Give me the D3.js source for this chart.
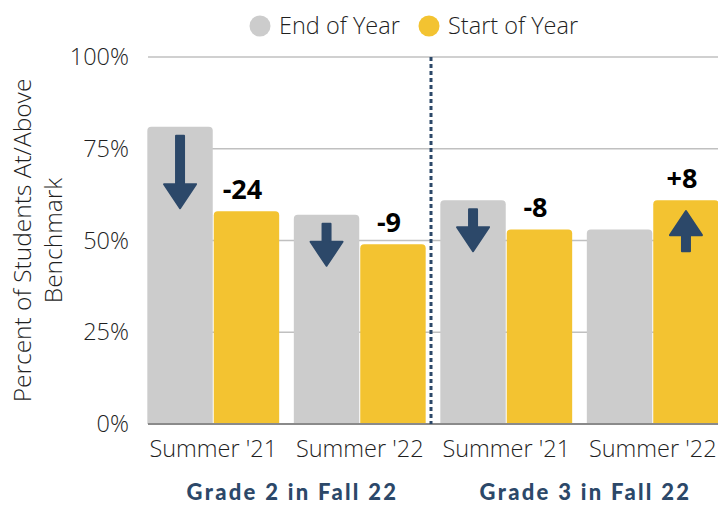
<!DOCTYPE html>
<html>
<head>
<meta charset="utf-8">
<script src="https://cdn.jsdelivr.net/npm/d3@7"></script>
<style>
  body { margin: 0; background: #fff; }
  svg { display: block; }
</style>
</head>
<body>
<svg id="chart"></svg>
<script>
// Data
var categories = ["Summer '21", "Summer '22", "Summer '21", "Summer '22"];
var groups = ["Grade 2 in Fall 22", "Grade 3 in Fall 22"];
var seriesNames = ["End of Year", "Start of Year"];
var endOfYear = [81, 57, 61, 53];
var startOfYear = [58, 49, 53, 61];
var changeLabels = ["-24", "-9", "-8", "+8"];
var yTicks = [0, 25, 50, 75, 100];

var colors = { "End of Year": "#cccccc", "Start of Year": "#f3c331" };
var navy = "#2c4869";
var font = "'Open Sans', sans-serif";
var textCol = "#1f1f1f";

var width = 718, height = 506;
var svg = d3.select('#chart').attr('width', width).attr('height', height);

// Scales
var y = d3.scaleLinear().domain([0, 100]).range([424, 57]);
var x0 = d3.scaleBand().domain(d3.range(categories.length)).range([140, 726])
  .paddingInner(0.1).paddingOuter(0.05);
var x1 = d3.scaleBand().domain(seriesNames).range([0, x0.bandwidth()]).paddingInner(0.015);

var rows = categories.map((c, i) => ({
  i: i, cat: c, end: endOfYear[i], start: startOfYear[i], label: changeLabels[i]
}));

// Gridlines
svg.append('g').selectAll('line').data(yTicks.filter(d => d > 0)).enter().append('line')
  .attr('x1', 148).attr('x2', width)
  .attr('y1', d => y(d)).attr('y2', d => y(d))
  .style('stroke', '#c0c0c0').style('stroke-width', 1.5);

// Y tick labels
svg.append('g').selectAll('text').data(yTicks).enter().append('text')
  .attr('x', 129).attr('y', d => y(d)).attr('dy', '0.35em')
  .attr('text-anchor', 'end')
  .style('font-family', font).style('font-size', '23.5px').style('font-weight', 300)
  .style('fill', textCol)
  .text(d => d + '%');

// Y axis title (two lines)
var title = svg.append('text')
  .attr('transform', `translate(0,${(y(0) + y(100)) / 2}) rotate(-90)`)
  .attr('text-anchor', 'middle')
  .style('font-family', font).style('font-size', '24.5px').style('font-weight', 300)
  .style('fill', textCol);
title.append('tspan').attr('x', 0).attr('y', 31).text('Percent of Students At/Above');
title.append('tspan').attr('x', 0).attr('y', 62).text('Benchmark');

// rounded-top bar path
function topRounded(bx, by, w, h, r) {
  return `M${bx},${by + h}V${by + r}Q${bx},${by} ${bx + r},${by}H${bx + w - r}` +
    `Q${bx + w},${by} ${bx + w},${by + r}V${by + h}Z`;
}

// Bars
var perGroup = svg.append('g').selectAll('g').data(rows).enter().append('g')
  .attr('transform', d => `translate(${x0(d.i)},0)`);

perGroup.selectAll('path').data(d => [
  { s: seriesNames[0], v: d.end },
  { s: seriesNames[1], v: d.start }
]).enter().append('path')
  .attr('d', d => topRounded(x1(d.s), y(d.v), x1.bandwidth(), y(0) - y(d.v), 4))
  .style('fill', d => colors[d.s]);

// Zero line
svg.append('line')
  .attr('x1', 148).attr('x2', width).attr('y1', y(0)).attr('y2', y(0))
  .style('stroke', '#8a8a8a').style('stroke-width', 2);

// Divider between the two grades
var divX = (x0(1) + x0.bandwidth() + x0(2)) / 2 - 2;
svg.append('line')
  .attr('x1', divX).attr('x2', divX).attr('y1', y(100)).attr('y2', y(0))
  .style('stroke', navy).style('stroke-width', 3).style('stroke-dasharray', '4 3');

// Arrows: down in the End of Year bar, up in the Start of Year bar
function arrowPath(cx, tail, tip) {
  var dir = tip > tail ? 1 : -1;
  var headBase = tip - dir * 24;
  return `M${cx - 4},${tail}V${headBase}H${cx - 16}L${cx},${tip}L${cx + 16},${headBase}H${cx + 4}V${tail}Z`;
}
perGroup.append('path')
  .attr('d', d => {
    if (d.start < d.end) {
      var cx = x1(seriesNames[0]) + x1.bandwidth() / 2;
      var top = y(d.end) + 9;
      var tip = Math.max(y(d.start) - 3, top + 42);
      return arrowPath(cx, top, tip);
    } else {
      var cx2 = x1(seriesNames[1]) + x1.bandwidth() / 2;
      var tipUp = y(d.start) + 11;
      return arrowPath(cx2, tipUp + 40, tipUp);
    }
  })
  .style('fill', navy).style('stroke', navy).style('stroke-width', 2)
  .style('stroke-linejoin', 'round');

// Change labels above the Start of Year bar
perGroup.append('text')
  .attr('x', x1(seriesNames[1]) + x1.bandwidth() / 2 - 4)
  .attr('y', d => y(d.start) - 12)
  .attr('text-anchor', 'middle')
  .style('font-family', font).style('font-size', '27px').style('font-weight', 700)
  .style('fill', '#000')
  .text(d => d.label);

// Category labels
perGroup.append('text')
  .attr('x', x0.bandwidth() / 2).attr('y', 457)
  .attr('text-anchor', 'middle')
  .style('font-family', font).style('font-size', '23.5px').style('font-weight', 300)
  .style('fill', textCol)
  .text(d => d.cat);

// Grade labels under each pair
svg.append('g').selectAll('text').data(groups).enter().append('text')
  .attr('x', (d, i) => (x0(i * 2) + x0(i * 2 + 1) + x0.bandwidth()) / 2 + 6)
  .attr('y', 500)
  .attr('text-anchor', 'middle')
  .style('font-family', 'Lato, sans-serif').style('font-size', '22px').style('font-weight', 900)
  .style('letter-spacing', '2.3px')
  .style('fill', navy)
  .text(d => d);

// Legend
var legend = svg.append('g').selectAll('g').data(seriesNames).enter().append('g')
  .attr('transform', (d, i) => `translate(${i === 0 ? 260 : 429},26)`);
legend.append('circle').attr('r', 10.5).style('fill', d => colors[d]);
legend.append('text').attr('x', 19).attr('y', 7.5)
  .style('font-family', font).style('font-size', '23.5px').style('font-weight', 300)
  .style('fill', textCol)
  .text(d => d);
</script>
</body>
</html>
